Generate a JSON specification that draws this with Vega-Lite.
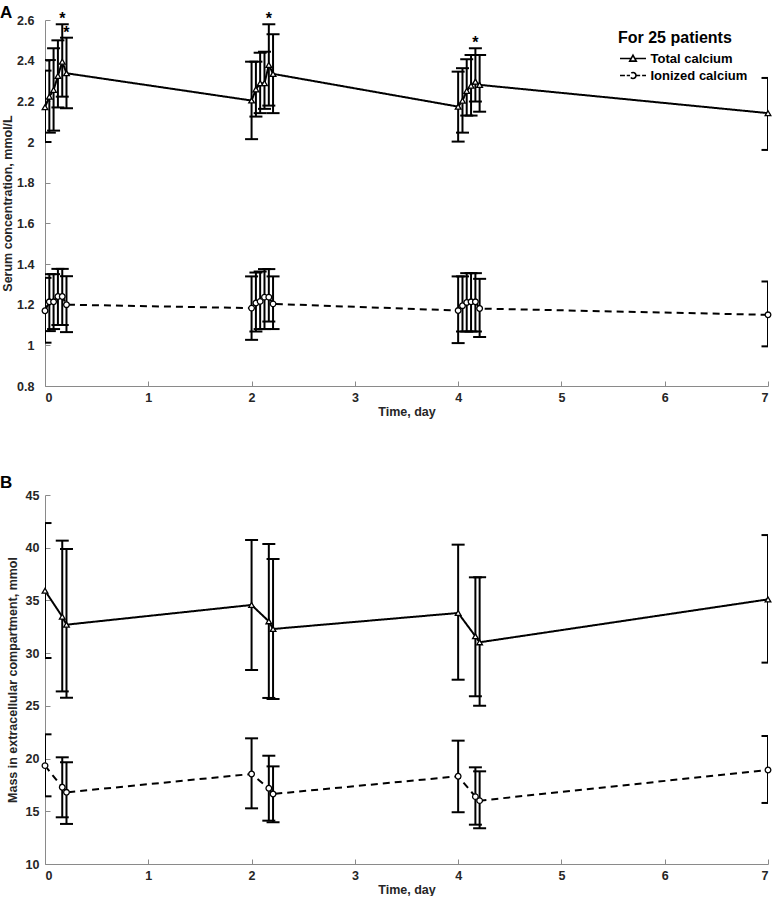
{
  "$schema": "https://vega.github.io/schema/vega-lite/v6.json",
  "padding": {"left": 0, "top": 4, "right": 0, "bottom": 0},
  "spacing": 56,
  "datasets": {
    "d": [
      {"panel": "A", "series": "Total calcium", "t": 0, "mean": 2.171, "lo": 2.0, "hi": 2.351, "sig": ""},
      {"panel": "A", "series": "Total calcium", "t": 0.042, "mean": 2.223, "lo": 2.046, "hi": 2.403, "sig": ""},
      {"panel": "A", "series": "Total calcium", "t": 0.083, "mean": 2.256, "lo": 2.056, "hi": 2.461, "sig": ""},
      {"panel": "A", "series": "Total calcium", "t": 0.125, "mean": 2.325, "lo": 2.17, "hi": 2.5, "sig": ""},
      {"panel": "A", "series": "Total calcium", "t": 0.167, "mean": 2.395, "lo": 2.223, "hi": 2.579, "sig": "*"},
      {"panel": "A", "series": "Total calcium", "t": 0.208, "mean": 2.338, "lo": 2.166, "hi": 2.513, "sig": "*"},
      {"panel": "A", "series": "Total calcium", "t": 2, "mean": 2.204, "lo": 2.014, "hi": 2.395, "sig": ""},
      {"panel": "A", "series": "Total calcium", "t": 2.042, "mean": 2.259, "lo": 2.125, "hi": 2.395, "sig": ""},
      {"panel": "A", "series": "Total calcium", "t": 2.083, "mean": 2.289, "lo": 2.142, "hi": 2.439, "sig": ""},
      {"panel": "A", "series": "Total calcium", "t": 2.125, "mean": 2.289, "lo": 2.163, "hi": 2.444, "sig": ""},
      {"panel": "A", "series": "Total calcium", "t": 2.167, "mean": 2.379, "lo": 2.179, "hi": 2.579, "sig": "*"},
      {"panel": "A", "series": "Total calcium", "t": 2.208, "mean": 2.335, "lo": 2.142, "hi": 2.53, "sig": ""},
      {"panel": "A", "series": "Total calcium", "t": 4, "mean": 2.174, "lo": 2.002, "hi": 2.346, "sig": ""},
      {"panel": "A", "series": "Total calcium", "t": 4.042, "mean": 2.203, "lo": 2.046, "hi": 2.363, "sig": ""},
      {"panel": "A", "series": "Total calcium", "t": 4.083, "mean": 2.251, "lo": 2.13, "hi": 2.407, "sig": ""},
      {"panel": "A", "series": "Total calcium", "t": 4.125, "mean": 2.277, "lo": 2.13, "hi": 2.428, "sig": ""},
      {"panel": "A", "series": "Total calcium", "t": 4.167, "mean": 2.297, "lo": 2.199, "hi": 2.461, "sig": "*"},
      {"panel": "A", "series": "Total calcium", "t": 4.208, "mean": 2.281, "lo": 2.149, "hi": 2.428, "sig": ""},
      {"panel": "A", "series": "Total calcium", "t": 7, "mean": 2.142, "lo": 1.961, "hi": 2.315, "sig": ""},
      {"panel": "A", "series": "Ionized calcium", "t": 0, "mean": 1.17, "lo": 1.013, "hi": 1.332, "sig": ""},
      {"panel": "A", "series": "Ionized calcium", "t": 0.042, "mean": 1.214, "lo": 1.07, "hi": 1.35, "sig": ""},
      {"panel": "A", "series": "Ionized calcium", "t": 0.083, "mean": 1.214, "lo": 1.08, "hi": 1.35, "sig": ""},
      {"panel": "A", "series": "Ionized calcium", "t": 0.125, "mean": 1.24, "lo": 1.1, "hi": 1.376, "sig": ""},
      {"panel": "A", "series": "Ionized calcium", "t": 0.167, "mean": 1.24, "lo": 1.1, "hi": 1.376, "sig": ""},
      {"panel": "A", "series": "Ionized calcium", "t": 0.208, "mean": 1.2, "lo": 1.065, "hi": 1.34, "sig": ""},
      {"panel": "A", "series": "Ionized calcium", "t": 2, "mean": 1.183, "lo": 1.027, "hi": 1.339, "sig": ""},
      {"panel": "A", "series": "Ionized calcium", "t": 2.042, "mean": 1.208, "lo": 1.068, "hi": 1.358, "sig": ""},
      {"panel": "A", "series": "Ionized calcium", "t": 2.083, "mean": 1.216, "lo": 1.08, "hi": 1.363, "sig": ""},
      {"panel": "A", "series": "Ionized calcium", "t": 2.125, "mean": 1.237, "lo": 1.08, "hi": 1.375, "sig": ""},
      {"panel": "A", "series": "Ionized calcium", "t": 2.167, "mean": 1.237, "lo": 1.117, "hi": 1.375, "sig": ""},
      {"panel": "A", "series": "Ionized calcium", "t": 2.208, "mean": 1.204, "lo": 1.08, "hi": 1.339, "sig": ""},
      {"panel": "A", "series": "Ionized calcium", "t": 4, "mean": 1.171, "lo": 1.011, "hi": 1.339, "sig": ""},
      {"panel": "A", "series": "Ionized calcium", "t": 4.042, "mean": 1.195, "lo": 1.068, "hi": 1.339, "sig": ""},
      {"panel": "A", "series": "Ionized calcium", "t": 4.083, "mean": 1.211, "lo": 1.068, "hi": 1.355, "sig": ""},
      {"panel": "A", "series": "Ionized calcium", "t": 4.125, "mean": 1.214, "lo": 1.068, "hi": 1.355, "sig": ""},
      {"panel": "A", "series": "Ionized calcium", "t": 4.167, "mean": 1.214, "lo": 1.068, "hi": 1.355, "sig": ""},
      {"panel": "A", "series": "Ionized calcium", "t": 4.208, "mean": 1.181, "lo": 1.041, "hi": 1.327, "sig": ""},
      {"panel": "A", "series": "Ionized calcium", "t": 7, "mean": 1.15, "lo": 0.995, "hi": 1.314, "sig": ""},
      {"panel": "B", "series": "Total calcium", "t": 0, "mean": 35.92, "lo": 29.54, "hi": 42.34, "sig": ""},
      {"panel": "B", "series": "Total calcium", "t": 0.167, "mean": 33.46, "lo": 26.37, "hi": 40.67, "sig": ""},
      {"panel": "B", "series": "Total calcium", "t": 0.208, "mean": 32.7, "lo": 25.77, "hi": 39.88, "sig": ""},
      {"panel": "B", "series": "Total calcium", "t": 2, "mean": 34.57, "lo": 28.4, "hi": 40.73, "sig": ""},
      {"panel": "B", "series": "Total calcium", "t": 2.167, "mean": 33.02, "lo": 25.75, "hi": 40.35, "sig": ""},
      {"panel": "B", "series": "Total calcium", "t": 2.208, "mean": 32.29, "lo": 25.65, "hi": 38.93, "sig": ""},
      {"panel": "B", "series": "Total calcium", "t": 4, "mean": 33.81, "lo": 27.48, "hi": 40.29, "sig": ""},
      {"panel": "B", "series": "Total calcium", "t": 4.167, "mean": 31.6, "lo": 25.91, "hi": 37.19, "sig": ""},
      {"panel": "B", "series": "Total calcium", "t": 4.208, "mean": 31.03, "lo": 25.01, "hi": 37.2, "sig": ""},
      {"panel": "B", "series": "Total calcium", "t": 7, "mean": 35.1, "lo": 29.1, "hi": 41.2, "sig": ""},
      {"panel": "B", "series": "Ionized calcium", "t": 0, "mean": 19.33, "lo": 16.42, "hi": 22.3, "sig": ""},
      {"panel": "B", "series": "Ionized calcium", "t": 0.167, "mean": 17.28, "lo": 14.43, "hi": 20.12, "sig": ""},
      {"panel": "B", "series": "Ionized calcium", "t": 0.208, "mean": 16.8, "lo": 13.8, "hi": 19.65, "sig": ""},
      {"panel": "B", "series": "Ionized calcium", "t": 2, "mean": 18.54, "lo": 15.28, "hi": 21.92, "sig": ""},
      {"panel": "B", "series": "Ionized calcium", "t": 2.167, "mean": 17.18, "lo": 14.11, "hi": 20.27, "sig": ""},
      {"panel": "B", "series": "Ionized calcium", "t": 2.208, "mean": 16.64, "lo": 13.96, "hi": 19.26, "sig": ""},
      {"panel": "B", "series": "Ionized calcium", "t": 4, "mean": 18.32, "lo": 14.91, "hi": 21.7, "sig": ""},
      {"panel": "B", "series": "Ionized calcium", "t": 4.167, "mean": 16.39, "lo": 13.73, "hi": 19.17, "sig": ""},
      {"panel": "B", "series": "Ionized calcium", "t": 4.208, "mean": 16.01, "lo": 13.39, "hi": 18.79, "sig": ""},
      {"panel": "B", "series": "Ionized calcium", "t": 7, "mean": 18.92, "lo": 15.79, "hi": 22.14, "sig": ""}
    ]
  },
  "vconcat": [
    {
      "title": {"text": "A", "anchor": "start", "frame": "group", "dx": -45, "fontSize": 17, "fontWeight": "bold", "color": "black", "offset": -11},
      "width": 723,
      "height": 366,
      "data": {"name": "d"},
      "transform": [{"filter": "datum.panel === 'A'"}],
      "resolve": {"scale": {"strokeDash": "independent", "shape": "independent"}, "legend": {"strokeDash": "independent"}},
      "encoding": {
        "x": {"field": "t", "type": "quantitative", "scale": {"domain": [0, 7], "nice": false, "zero": false},
              "axis": {"title": "Time, day", "values": [0, 1, 2, 3, 4, 5, 6, 7], "format": "d"}}
      },
      "layer": [
        {
          "mark": {"type": "rule", "strokeWidth": 2, "color": "black", "clip": true},
          "encoding": {
            "y": {"field": "lo", "type": "quantitative", "scale": {"domain": [0.8, 2.6], "nice": false, "zero": false},
                  "axis": {"title": "Serum concentration, mmol/L", "values": [0.8, 1, 1.2, 1.4, 1.6, 1.8, 2, 2.2, 2.4, 2.6], "format": "~g", "labelPadding": 16, "titlePadding": 2}},
            "y2": {"field": "hi"}
          }
        },
        {
          "mark": {"type": "tick", "orient": "horizontal", "size": 13, "thickness": 2, "color": "black", "opacity": 1, "clip": true},
          "encoding": {"y": {"field": "lo", "type": "quantitative",
                  "axis": {"title": "Serum concentration, mmol/L", "values": [0.8, 1, 1.2, 1.4, 1.6, 1.8, 2, 2.2, 2.4, 2.6], "format": "~g", "labelPadding": 16, "titlePadding": 2}}}
        },
        {
          "mark": {"type": "tick", "orient": "horizontal", "size": 13, "thickness": 2, "color": "black", "opacity": 1, "clip": true},
          "encoding": {"y": {"field": "hi", "type": "quantitative",
                  "axis": {"title": "Serum concentration, mmol/L", "values": [0.8, 1, 1.2, 1.4, 1.6, 1.8, 2, 2.2, 2.4, 2.6], "format": "~g", "labelPadding": 16, "titlePadding": 2}}}
        },
        {
          "mark": {"type": "line", "strokeWidth": 2, "color": "black"},
          "encoding": {
            "y": {"field": "mean", "type": "quantitative",
                  "axis": {"title": "Serum concentration, mmol/L", "values": [0.8, 1, 1.2, 1.4, 1.6, 1.8, 2, 2.2, 2.4, 2.6], "format": "~g", "labelPadding": 16, "titlePadding": 2}},
            "order": {"field": "t", "type": "quantitative"},
            "strokeDash": {
              "field": "series", "type": "nominal",
              "scale": {"domain": ["Total calcium", "Ionized calcium"], "range": [[1, 0], [7, 5]]},
              "legend": {
                "title": "For 25 patients", "orient": "none", "legendX": 573, "legendY": 10,
                "padding": 0, "titleFontSize": 16, "titleFontWeight": "bold", "titleColor": "black", "titlePadding": 5,
                "titleFont": "Liberation Sans",
                "labelFont": "Liberation Sans", "labelFontSize": 13, "labelFontWeight": "bold", "labelColor": "black",
                "labelOffset": 10, "symbolOffset": 7.5, "symbolSize": 169, "symbolStrokeWidth": 1.6, "symbolStrokeColor": "black",
                "symbolFillColor": "white", "rowPadding": 2,
                "encode": {
                  "symbols": {
                    "update": {
                      "shape": {"signal": "datum.value === 'Total calcium' ? 'M-2,0H-0.3M0.3,0H2M-0.5,0.4L0,-0.5L0.5,0.4Z' : 'M-2,0H-1.24M-0.96,0H-0.46M0.46,0H1.1M1.4,0H2M0.46,0A0.46,0.46 0 1,1 -0.46,0A0.46,0.46 0 1,1 0.46,0Z'"},
                      "strokeDash": {"value": [1, 0]},
                      "fill": {"value": "white"},
                      "stroke": {"value": "black"},
                      "strokeWidth": {"value": 1.6},
                      "opacity": {"value": 1}
                    }
                  }
                }
              }
            }
          }
        },
        {
          "mark": {"type": "point", "filled": true, "fill": "white", "stroke": "black", "strokeWidth": 1.3, "opacity": 1, "size": 32},
          "encoding": {
            "y": {"field": "mean", "type": "quantitative",
                  "axis": {"title": "Serum concentration, mmol/L", "values": [0.8, 1, 1.2, 1.4, 1.6, 1.8, 2, 2.2, 2.4, 2.6], "format": "~g", "labelPadding": 16, "titlePadding": 2}},
            "shape": {"field": "series", "type": "nominal", "scale": {"domain": ["Total calcium", "Ionized calcium"], "range": ["triangle-up", "circle"]}, "legend": null}
          }
        },
        {
          "transform": [{"filter": "datum.sig === '*'"}],
          "mark": {"type": "text", "text": "*", "fontSize": 16, "fontWeight": "bold", "color": "black", "baseline": "alphabetic", "dy": 0, "font": "Liberation Sans"},
          "encoding": {"y": {"field": "hi", "type": "quantitative",
                  "axis": {"title": "Serum concentration, mmol/L", "values": [0.8, 1, 1.2, 1.4, 1.6, 1.8, 2, 2.2, 2.4, 2.6], "format": "~g", "labelPadding": 16, "titlePadding": 2}}}
        }
      ]
    },
    {
      "title": {"text": "B", "anchor": "start", "frame": "group", "dx": -45, "fontSize": 17, "fontWeight": "bold", "color": "black", "offset": -3},
      "width": 723,
      "height": 369,
      "data": {"name": "d"},
      "transform": [{"filter": "datum.panel === 'B'"}],
      "resolve": {"scale": {"strokeDash": "independent", "shape": "independent"}, "legend": {"strokeDash": "independent"}},
      "encoding": {
        "x": {"field": "t", "type": "quantitative", "scale": {"domain": [0, 7], "nice": false, "zero": false},
              "axis": {"title": "Time, day", "values": [0, 1, 2, 3, 4, 5, 6, 7], "format": "d"}}
      },
      "layer": [
        {
          "mark": {"type": "rule", "strokeWidth": 2, "color": "black", "clip": true},
          "encoding": {
            "y": {"field": "lo", "type": "quantitative", "scale": {"domain": [10, 45], "nice": false, "zero": false},
                  "axis": {"title": "Mass in extracellular compartment, mmol", "values": [10, 15, 20, 25, 30, 35, 40, 45], "format": "d", "labelPadding": 11, "titlePadding": 6}},
            "y2": {"field": "hi"}
          }
        },
        {
          "mark": {"type": "tick", "orient": "horizontal", "size": 13, "thickness": 2, "color": "black", "opacity": 1, "clip": true},
          "encoding": {"y": {"field": "lo", "type": "quantitative",
                  "axis": {"title": "Mass in extracellular compartment, mmol", "values": [10, 15, 20, 25, 30, 35, 40, 45], "format": "d", "labelPadding": 11, "titlePadding": 6}}}
        },
        {
          "mark": {"type": "tick", "orient": "horizontal", "size": 13, "thickness": 2, "color": "black", "opacity": 1, "clip": true},
          "encoding": {"y": {"field": "hi", "type": "quantitative",
                  "axis": {"title": "Mass in extracellular compartment, mmol", "values": [10, 15, 20, 25, 30, 35, 40, 45], "format": "d", "labelPadding": 11, "titlePadding": 6}}}
        },
        {
          "mark": {"type": "line", "strokeWidth": 2, "color": "black"},
          "encoding": {
            "y": {"field": "mean", "type": "quantitative",
                  "axis": {"title": "Mass in extracellular compartment, mmol", "values": [10, 15, 20, 25, 30, 35, 40, 45], "format": "d", "labelPadding": 11, "titlePadding": 6}},
            "order": {"field": "t", "type": "quantitative"},
            "strokeDash": {
              "field": "series", "type": "nominal",
              "scale": {"domain": ["Total calcium", "Ionized calcium"], "range": [[1, 0], [7, 5]]},
              "legend": null
            }
          }
        },
        {
          "mark": {"type": "point", "filled": true, "fill": "white", "stroke": "black", "strokeWidth": 1.3, "opacity": 1, "size": 32},
          "encoding": {
            "y": {"field": "mean", "type": "quantitative",
                  "axis": {"title": "Mass in extracellular compartment, mmol", "values": [10, 15, 20, 25, 30, 35, 40, 45], "format": "d", "labelPadding": 11, "titlePadding": 6}},
            "shape": {"field": "series", "type": "nominal", "scale": {"domain": ["Total calcium", "Ionized calcium"], "range": ["triangle-up", "circle"]}, "legend": null}
          }
        }
      ]
    }
  ],
  "config": {
    "font": "Liberation Sans",
    "view": {"stroke": null},
    "axis": {
      "grid": false,
      "labelFont": "Liberation Sans", "labelFontSize": 12.5, "labelFontWeight": "bold", "labelColor": "#262626",
      "titleFont": "Liberation Sans", "titleFontSize": 12.5, "titleFontWeight": "bold", "titleColor": "#262626",
      "domainColor": "#8a8a8a", "tickColor": "#8a8a8a", "domainWidth": 1, "tickWidth": 1,
      "tickSize": -5
    },
    "axisX": {"labelPadding": 10.5, "titlePadding": 1.5}
  }
}
